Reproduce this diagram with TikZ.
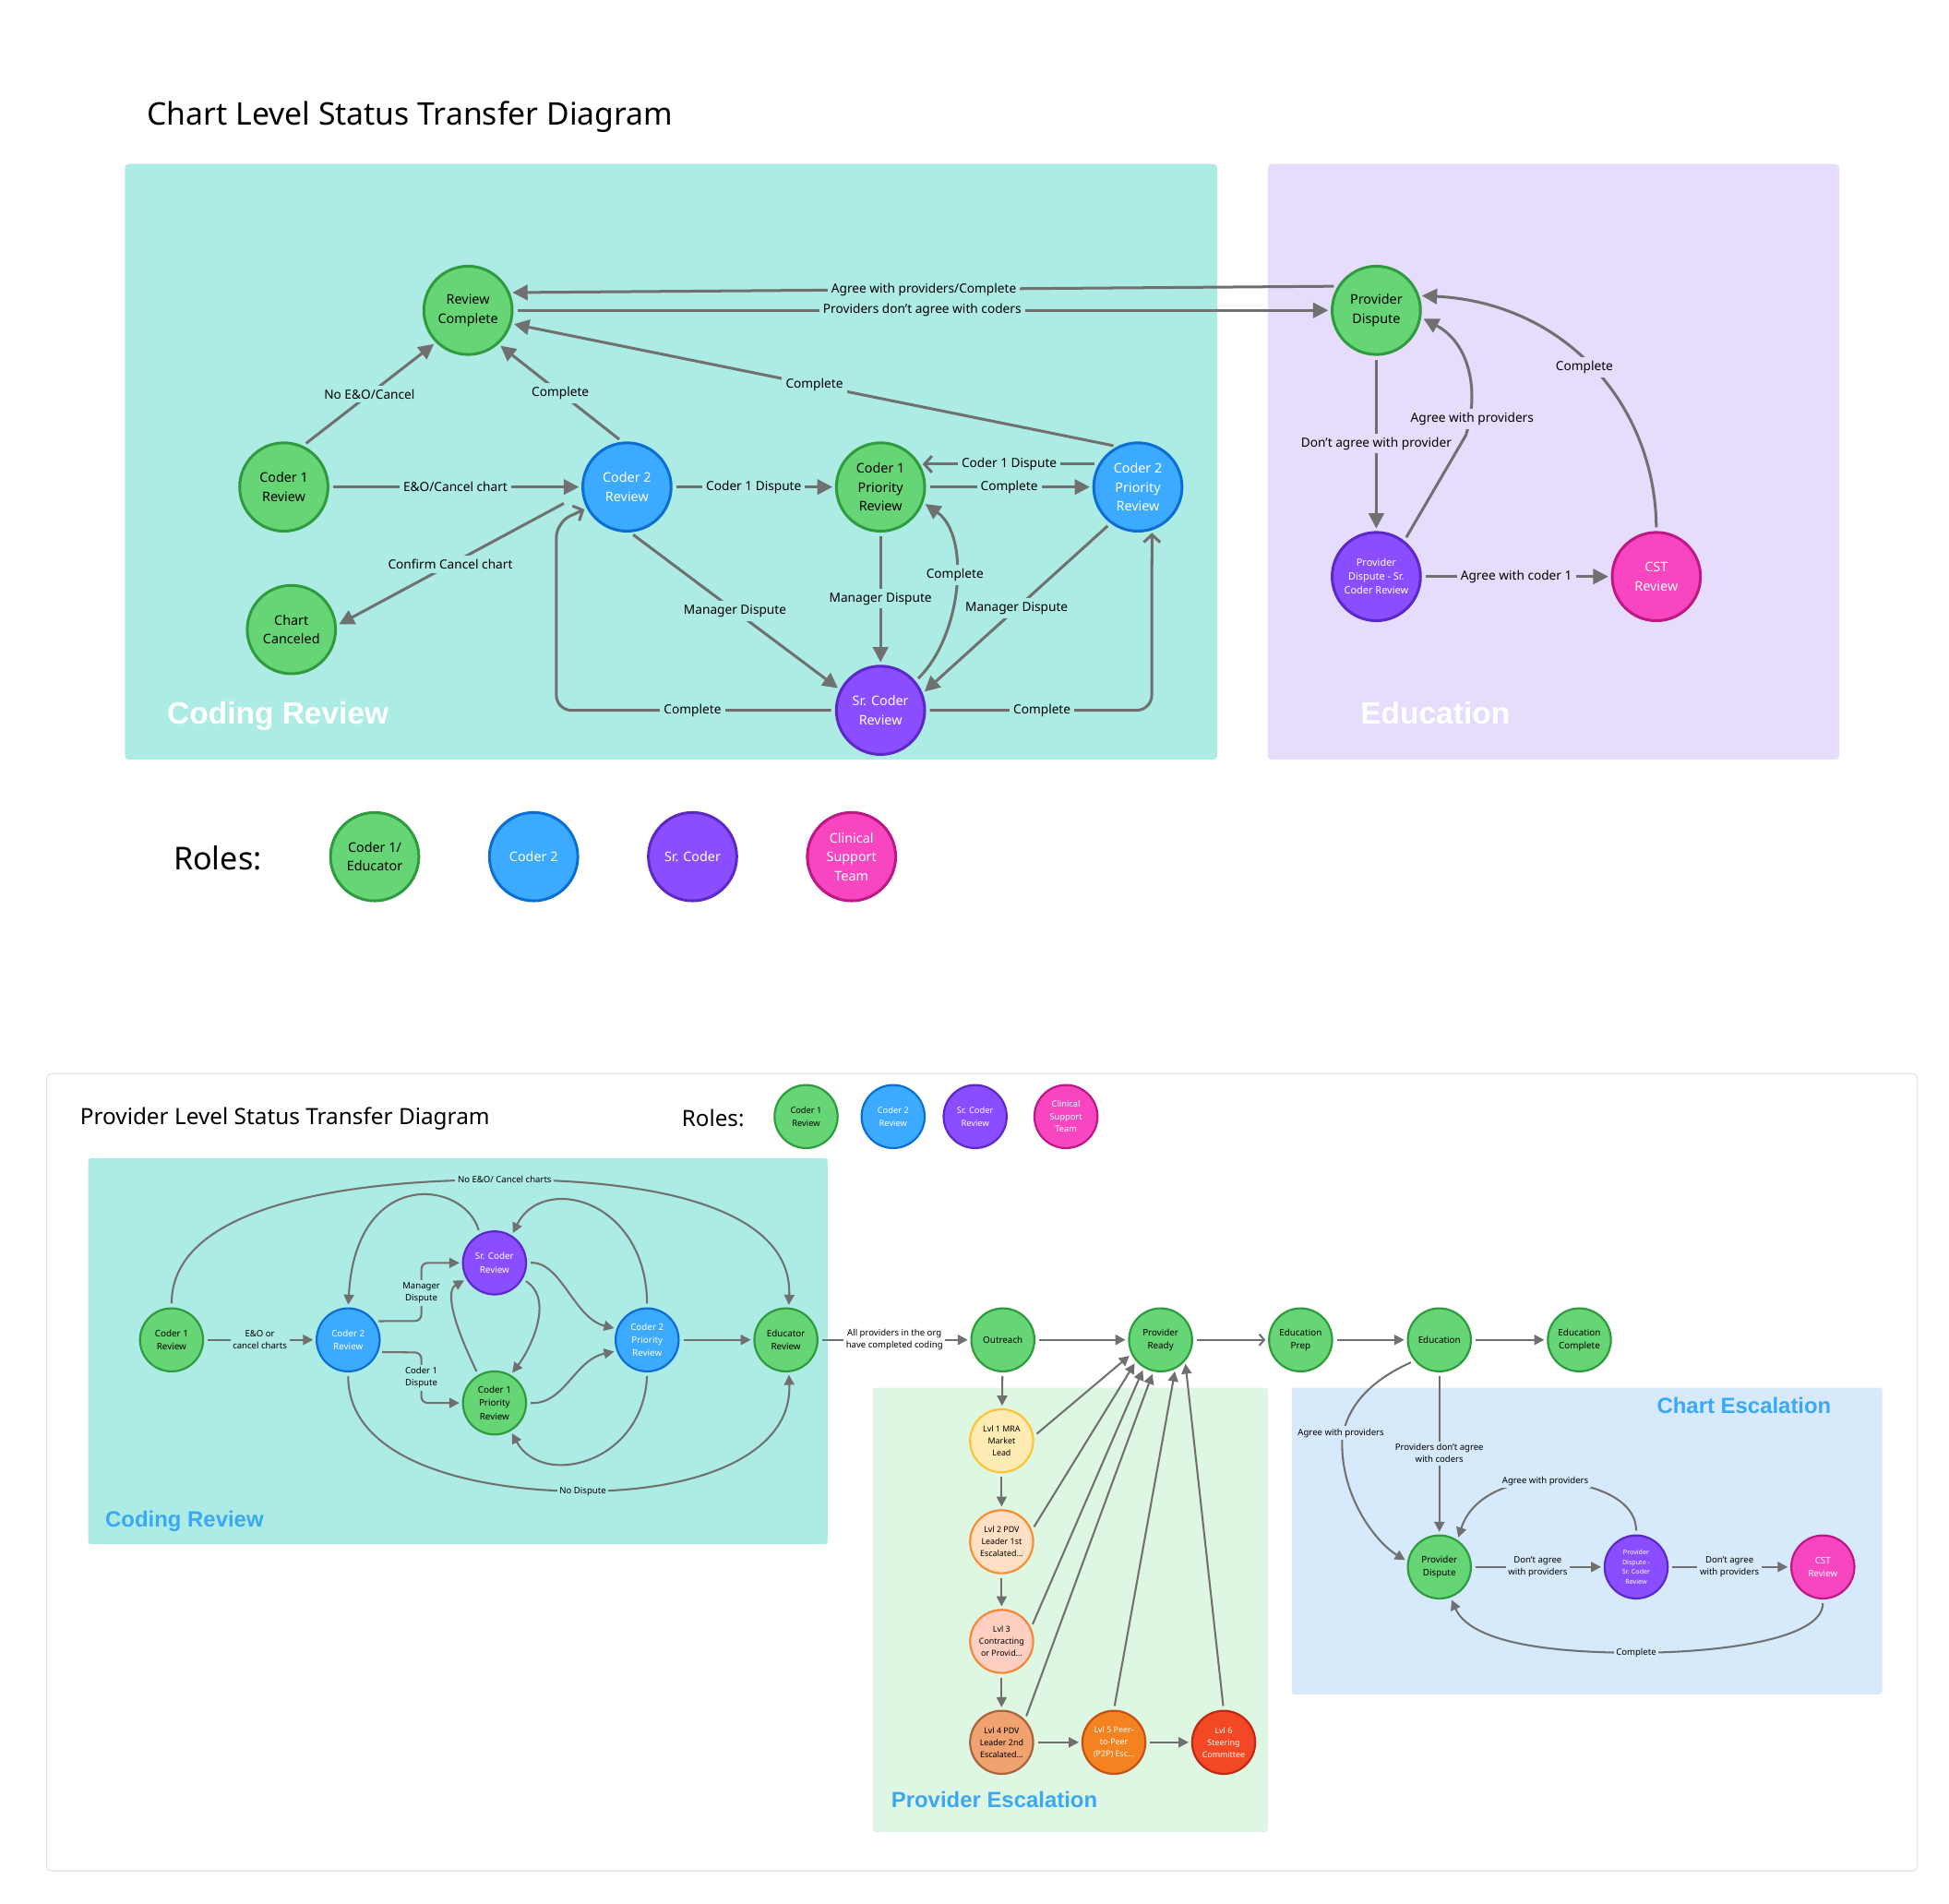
\documentclass[tikz,border=0pt]{standalone}
\usepackage{fontspec}
\setmainfont{Noto Sans}
\newfontfamily\heavy{Liberation Sans}
\usetikzlibrary{arrows.meta}
\definecolor{aqua}{RGB}{173,235,229}
\definecolor{lav}{RGB}{230,220,252}
\definecolor{lgreen}{RGB}{221,247,227}
\definecolor{lblue}{RGB}{214,234,252}
\definecolor{gfill}{RGB}{102,213,117}
\definecolor{gline}{RGB}{47,155,62}
\definecolor{bfill}{RGB}{60,170,255}
\definecolor{bline}{RGB}{12,110,212}
\definecolor{pfill}{RGB}{138,77,255}
\definecolor{pline}{RGB}{92,40,200}
\definecolor{kfill}{RGB}{247,70,192}
\definecolor{kline}{RGB}{190,24,135}
\definecolor{egray}{RGB}{112,112,112}
\definecolor{ttlblue}{RGB}{58,168,245}
\definecolor{frameg}{RGB}{225,225,225}
\definecolor{yAf}{RGB}{255,236,180}
\definecolor{yAl}{RGB}{255,196,50}
\definecolor{oBf}{RGB}{255,224,196}
\definecolor{oBl}{RGB}{250,140,50}
\definecolor{oCf}{RGB}{255,208,194}
\definecolor{oCl}{RGB}{245,135,55}
\definecolor{oDf}{RGB}{240,162,112}
\definecolor{oDl}{RGB}{170,100,60}
\definecolor{oEf}{RGB}{245,130,32}
\definecolor{oEl}{RGB}{200,80,20}
\definecolor{oFf}{RGB}{242,72,35}
\definecolor{oFl}{RGB}{190,40,20}
\tikzset{
  circ/.style={circle, minimum size=70pt, inner sep=0pt, line width=2.2pt, align=center, font=\fontsize{10.5}{15}\selectfont},
  gn/.style={circ, fill=gfill, draw=gline, text=black},
  bn/.style={circ, fill=bfill, draw=bline, text=white},
  pn/.style={circ, fill=pfill, draw=pline, text=white},
  kn/.style={circ, fill=kfill, draw=kline, text=white},
  sc/.style={circle, minimum size=50pt, inner sep=0pt, line width=1.6pt, align=center, font=\fontsize{7.2}{10.5}\selectfont},
  sgn/.style={sc, fill=gfill, draw=gline, text=black},
  sbn/.style={sc, fill=bfill, draw=bline, text=white},
  spn/.style={sc, fill=pfill, draw=pline, text=white},
  skn/.style={sc, fill=kfill, draw=kline, text=white},
  esc/.style={sc, font=\fontsize{6.5}{9.5}\selectfont},
  edge/.style={draw=egray, line width=2.2pt, shorten >=2pt, shorten <=3pt},
  arr/.style={edge, -{Triangle[length=12pt,width=12pt]}},
  oarr/.style={edge, -{Straight Barb[length=6pt,width=13pt]}},
  sedge/.style={draw=egray, line width=1.5pt, shorten >=2pt, shorten <=3pt},
  sarr/.style={sedge, -{Triangle[length=8pt,width=8pt]}},
  soarr/.style={sedge, -{Straight Barb[length=4pt,width=9pt]}},
  lbl/.style={inner sep=3pt, font=\fontsize{10}{12}\selectfont, text=black},
  lblA/.style={lbl, fill=aqua},
  lblL/.style={lbl, fill=lav},
  slbl/.style={inner sep=2pt, align=center, font=\fontsize{7}{9.5}\selectfont, text=black},
  bigtag/.style={anchor=base west, font=\heavy\bfseries\fontsize{24.5}{29}\selectfont, text=white},
  smalltag/.style={anchor=base west, font=\heavy\bfseries\fontsize{17.5}{21}\selectfont, text=ttlblue},
}
\begin{document}
\begin{tikzpicture}[x=1pt,y=-1pt]
\fill[white] (0,0) rectangle (1545,1509);
\path[use as bounding box] (0,0) rectangle (1545,1509);

% ================= TOP =================
\node[anchor=west, font=\fontsize{24.7}{30}\selectfont] (title1) at (113,93) {Chart Level Status Transfer Diagram};
\fill[aqua, rounded corners=3pt] (99,130) rectangle (965,602);
\fill[lav, rounded corners=3pt] (1005,130) rectangle (1458,602);
\node[bigtag] (crlab) at (129,574) {Coding Review};
\node[bigtag] (edlab) at (1075,574) {Education};

\node[gn] (rc) at (371,246) {Review\\Complete};
\node[gn] (c1) at (225,386) {Coder 1\\Review};
\node[bn] (c2) at (497,386) {Coder 2\\Review};
\node[gn] (c1p) at (698,386) {Coder 1\\Priority\\Review};
\node[bn] (c2p) at (902,386) {Coder 2\\Priority\\Review};
\node[gn] (cc) at (231,499) {Chart\\Canceled};
\node[pn] (sr) at (698,563) {Sr. Coder\\Review};
\node[gn] (pd) at (1091,246) {Provider\\Dispute};
\node[pn, font=\fontsize{8}{11}\selectfont] (pds) at (1091,457) {Provider\\Dispute - Sr.\\Coder Review};
\node[kn] (cst) at (1313,457) {CST\\Review};

\coordinate (c2cc) at (447,399);

\draw[arr] (c1.65) -- node[lblA] (t1) {No E\&O/Cancel} (rc.225);
\draw[arr] (c2.96) -- node[lblA] (t2) {Complete} (rc.-48);
\draw[arr] (c1) -- node[lblA] (t3) {E\&O/Cancel chart} (c2);
\draw[arr, shorten <=0pt] (c2cc) -- node[lblA] (t4) {Confirm Cancel chart} (cc.5);
\draw[arr] (c2) -- node[lblA] (t5) {Coder 1 Dispute} (c1p);
\draw[arr] (c1p) -- node[lblA] (t6) {Complete} (c2p);
\draw[oarr] (c2p.150) -- node[lblA] (t7) {Coder 1 Dispute} (c1p.30);
\draw[arr] (c2p.117) -- node[lblA] (t8) {Complete} (rc.-17);
\draw[arr] (pd.148) -- node[lblA] (t9) {Agree with providers/Complete} (rc.23);
\draw[arr] (rc.east) -- node[lblA] (t10) {Providers don’t agree with coders} (pd.west);
\draw[arr] (c2.-86) -- node[lblA] (t11) {Manager Dispute} (sr.153);
\draw[arr] (c1p.south) -- node[lblA] (t12) {Manager Dispute} (sr.north);
\draw[arr] (c2p.-127) -- node[lblA] (t13) {Manager Dispute} (sr.22);
\draw[arr] (sr.40) .. controls (762,505) and (770,425) .. (c1p.-20);
\node[lblA] (t14) at (757,456) {Complete};
\draw[oarr, rounded corners=12pt] (sr.west) -- (441,563) -- (441,414) -- (c2.-152);
\node[lblA] (t15) at (549,563) {Complete};
\draw[oarr, rounded corners=12pt] (sr.east) -- (913,563) -- (c2p.-72);
\node[lblA] (t16) at (826,563) {Complete};

\draw[arr] (pd.south) -- node[lblL] (t17) {Don’t agree with provider} (pds.north);
\draw[arr] (pds.52) -- (1162,345) .. controls (1173,310) and (1165,272) .. (pd.-9);
\node[lblL] (t18) at (1167,332) {Agree with providers};
\draw[arr] (cst.north) .. controls (1312,320) and (1240,240) .. (pd.19);
\node[lblL] (t19) at (1256,291) {Complete};
\draw[arr] (pds) -- node[lblL] (t20) {Agree with coder 1} (cst);

% Roles
\node[anchor=west, font=\fontsize{25}{30}\selectfont] (roles1) at (134,680) {Roles:};
\node[gn] (r1) at (297,679) {Coder 1/\\Educator};
\node[bn] (r2) at (423,679) {Coder 2};
\node[pn] (r3) at (549,679) {Sr. Coder};
\node[kn] (r4) at (675,679) {Clinical\\Support\\Team};

% ================= BOTTOM =================
\draw[frameg, line width=0.8pt, rounded corners=4pt, fill=white] (37,851) rectangle (1520,1483);
\node[anchor=west, font=\fontsize{17.8}{22}\selectfont] (title2) at (60,887) {Provider Level Status Transfer Diagram};
\node[anchor=west, font=\fontsize{17.7}{22}\selectfont] (roles2) at (537,886) {Roles:};
\node[sgn, font=\fontsize{6.8}{10}\selectfont] (sr1) at (639,885) {Coder 1\\Review};
\node[sbn, font=\fontsize{6.8}{10}\selectfont] (sr2) at (708,885) {Coder 2\\Review};
\node[spn, font=\fontsize{6.8}{10}\selectfont] (sr3) at (773,885) {Sr. Coder\\Review};
\node[skn, font=\fontsize{6.8}{10}\selectfont] (sr4) at (845,885) {Clinical\\Support\\Team};

\fill[aqua, rounded corners=2pt] (70,918) rectangle (656,1224);
\fill[lgreen, rounded corners=2pt] (692,1100) rectangle (1005,1452);
\fill[lblue, rounded corners=2pt] (1024,1100) rectangle (1492,1343);
\node[smalltag] (bcrl) at (80,1210) {Coding Review};
\node[smalltag] (bpel) at (703,1433) {Provider Escalation};
\node[smalltag] (bcel) at (1310,1120) {Chart Escalation};

% coding review nodes
\node[sgn] (bc1) at (136,1062) {Coder 1\\Review};
\node[sbn] (bc2) at (276,1062) {Coder 2\\Review};
\node[spn] (bsr) at (392,1001) {Sr. Coder\\Review};
\node[sgn] (bc1p) at (392,1112) {Coder 1\\Priority\\Review};
\node[sbn] (bc2p) at (513,1062) {Coder 2\\Priority\\Review};
\node[sgn] (bed) at (623,1062) {Educator\\Review};

% main line
\node[sgn] (bout) at (795,1062) {Outreach};
\node[sgn] (bpr) at (920,1062) {Provider\\Ready};
\node[sgn] (bep) at (1031,1062) {Education\\Prep};
\node[sgn] (bedu) at (1141,1062) {Education};
\node[sgn] (bec) at (1252,1062) {Education\\Complete};

% escalation
\node[esc, fill=yAf, draw=yAl] (l1) at (794,1142) {Lvl 1 MRA\\Market\\Lead};
\node[esc, fill=oBf, draw=oBl] (l2) at (794,1222) {Lvl 2 PDV\\Leader 1st\\Escalated…};
\node[esc, fill=oCf, draw=oCl] (l3) at (794,1301) {Lvl 3\\Contracting\\or Provid…};
\node[esc, fill=oDf, draw=oDl] (l4) at (794,1381) {Lvl 4 PDV\\Leader 2nd\\Escalated…};
\node[esc, fill=oEf, draw=oEl, text=white] (l5) at (883,1381) {Lvl 5 Peer-\\to-Peer\\(P2P) Esc…};
\node[esc, fill=oFf, draw=oFl, text=white] (l6) at (970,1381) {Lvl 6\\Steering\\Committee};

% chart escalation
\node[sgn] (bpd) at (1141,1242) {Provider\\Dispute};
\node[spn, font=\fontsize{5.2}{8}\selectfont] (bpds) at (1297,1242) {Provider\\Dispute -\\Sr. Coder\\Review};
\node[skn] (bcst) at (1445,1242) {CST\\Review};

% coding review edges
\draw[sarr] (bc1) -- node[slbl, fill=aqua] (s1) {E\&O or\\cancel charts} (bc2);
\draw[sarr] (bc1.north) .. controls (136,960) and (260,935) .. (400,935) .. controls (540,935) and (628,965) .. (bed.85);
\node[slbl, fill=aqua] (s2) at (400,935) {No E\&O/ Cancel charts};
\draw[sarr, rounded corners=5pt] (bc2.35) -- (334,1047) -- (334,1001) -- (bsr.west);
\node[slbl, fill=aqua] (s3) at (334,1025) {Manager\\Dispute};
\draw[sarr, rounded corners=5pt] (bc2.-22) -- (334,1072) -- (334,1112) -- (bc1p.west);
\node[slbl, fill=aqua] (s4) at (334,1092) {Coder 1\\Dispute};
\draw[sarr] (bsr.117) .. controls (368,935) and (282,925) .. (bc2.north);
\draw[sarr] (bc2p.north) .. controls (512,950) and (430,930) .. (bsr.58);
\draw[sarr] (bsr.east) .. controls (445,1000) and (455,1045) .. (bc2p.160);
\draw[sarr] (bsr.-30) .. controls (440,1030) and (420,1070) .. (bc1p.60);
\draw[sarr] (bc1p.120) .. controls (355,1040) and (355,1022) .. (bsr.-150);
\draw[sarr] (bc1p.east) .. controls (448,1113) and (455,1078) .. (bc2p.200);
\draw[sarr] (bc2p.south) .. controls (510,1160) and (430,1180) .. (bc1p.-60);
\draw[sarr] (bc2.south) .. controls (276,1160) and (380,1182) .. (462,1182) .. controls (560,1182) and (628,1150) .. (bed.-85);
\node[slbl, fill=aqua] (s5) at (462,1182) {No Dispute};
\draw[sarr] (bc2p) -- (bed);
\draw[sarr] (bed) -- node[slbl, fill=white] (s6) {All providers in the org\\have completed coding} (bout);

% main line edges
\draw[sarr] (bout) -- (bpr);
\draw[soarr] (bpr) -- (bep);
\draw[sarr] (bep) -- (bedu);
\draw[sarr] (bedu) -- (bec);

% escalation edges
\draw[sarr] (bout) -- (l1);
\draw[sarr] (l1) -- (l2);
\draw[sarr] (l2) -- (l3);
\draw[sarr] (l3) -- (l4);
\draw[sarr] (l4) -- (l5);
\draw[sarr] (l5) -- (l6);
\draw[sarr] (l1.8) -- (bpr.206);
\draw[sarr] (l2.21) -- (bpr.221);
\draw[sarr] (l3.25) -- (bpr.239);
\draw[sarr] (l4.44) -- (bpr.257);
\draw[sarr] (l5.north) -- (bpr.297);
\draw[sarr] (l6.north) -- (bpr.-41);

% chart escalation edges
\draw[sarr] (bedu.220) .. controls (1085,1095) and (1068,1115) .. (1064,1140) .. controls (1062,1185) and (1090,1222) .. (bpd.170);
\node[slbl, fill=lblue] (s7) at (1063,1136) {Agree with providers};
\draw[sarr] (bedu.south) -- node[slbl, fill=lblue] (s8) {Providers don’t agree\\with coders} (bpd.north);
\draw[sarr] (bpds.north) .. controls (1297,1185) and (1255,1174) .. (1225,1174) .. controls (1190,1174) and (1165,1190) .. (bpd.56);
\node[slbl, fill=lblue] (s9) at (1225,1174) {Agree with providers};
\draw[sarr] (bpd) -- node[slbl, fill=lblue] (s10) {Don’t agree\\with providers} (bpds);
\draw[sarr] (bpds) -- node[slbl, fill=lblue] (s11) {Don’t agree\\with providers} (bcst);
\draw[sarr] (bcst.south) .. controls (1445,1300) and (1360,1310) .. (1297,1310) .. controls (1220,1310) and (1165,1300) .. (bpd.-70);
\node[slbl, fill=lblue] (s12) at (1297,1310) {Complete};
\end{tikzpicture}
\end{document}
